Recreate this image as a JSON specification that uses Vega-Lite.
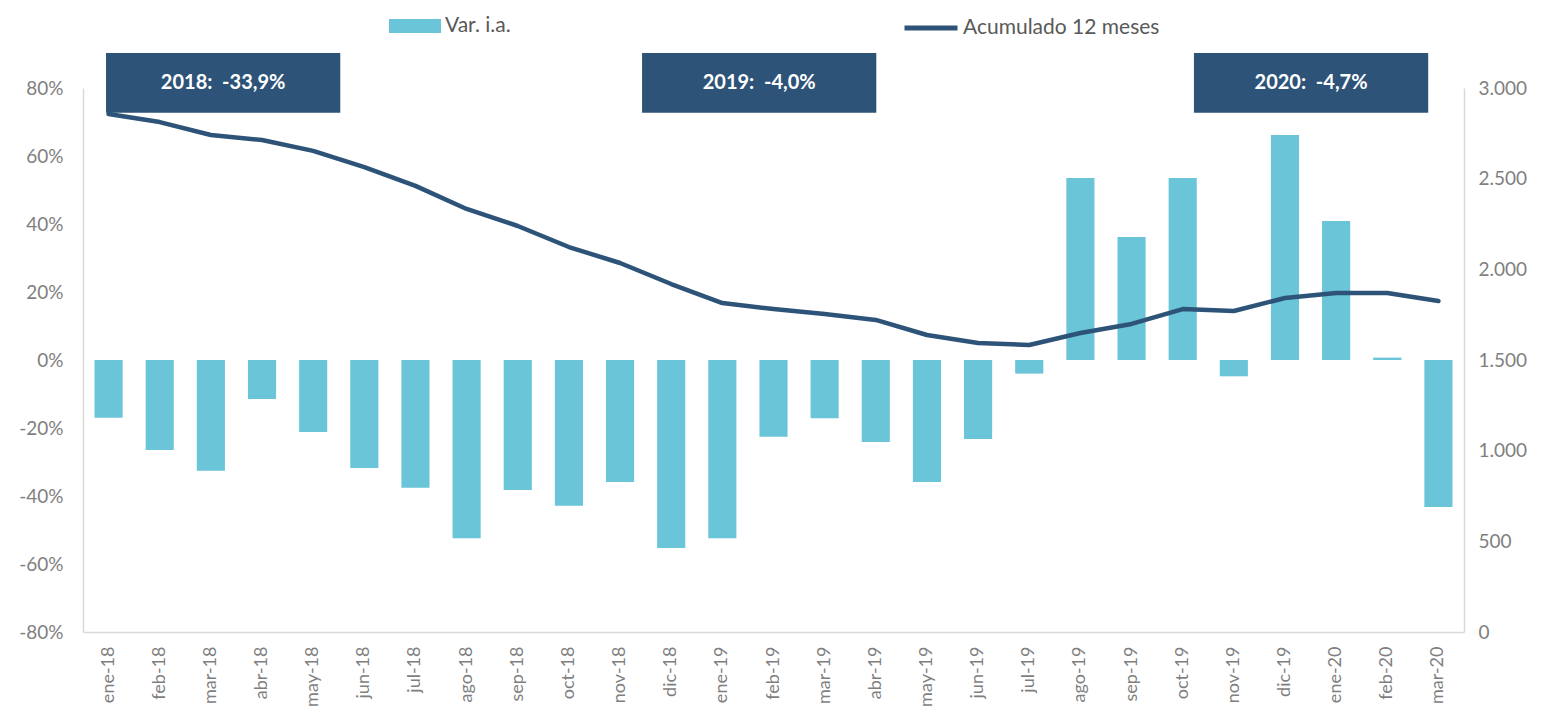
{
  "$schema": "https://vega.github.io/schema/vega-lite/v6.json",
  "width": 1381,
  "height": 544,
  "autosize": {"type": "none"},
  "padding": {"left": 83, "top": 88, "right": 77, "bottom": 84},
  "background": "white",
  "config": {
    "font": "Lato",
    "view": {"stroke": null},
    "axis": {"labelFont": "Lato", "labelColor": "#7F7F7F", "labelFontSize": 19, "ticks": false, "grid": false, "domainColor": "#D9D9D9", "domainWidth": 1.5, "title": null},
    "legend": {"labelFont": "Lato", "labelFontSize": 21, "labelColor": "#595959", "padding": 0, "title": null, "labelLimit": 400}
  },
  "datasets": {
    "main": [
      {"mes": "ene-18", "var": -0.17, "acum": 2857},
      {"mes": "feb-18", "var": -0.265, "acum": 2812},
      {"mes": "mar-18", "var": -0.326, "acum": 2741},
      {"mes": "abr-18", "var": -0.115, "acum": 2713},
      {"mes": "may-18", "var": -0.212, "acum": 2653},
      {"mes": "jun-18", "var": -0.318, "acum": 2564},
      {"mes": "jul-18", "var": -0.376, "acum": 2460},
      {"mes": "ago-18", "var": -0.524, "acum": 2333},
      {"mes": "sep-18", "var": -0.382, "acum": 2239},
      {"mes": "oct-18", "var": -0.429, "acum": 2123},
      {"mes": "nov-18", "var": -0.359, "acum": 2035},
      {"mes": "dic-18", "var": -0.553, "acum": 1919},
      {"mes": "ene-19", "var": -0.524, "acum": 1814},
      {"mes": "feb-19", "var": -0.226, "acum": 1781},
      {"mes": "mar-19", "var": -0.171, "acum": 1754},
      {"mes": "abr-19", "var": -0.241, "acum": 1721},
      {"mes": "may-19", "var": -0.359, "acum": 1638},
      {"mes": "jun-19", "var": -0.232, "acum": 1594},
      {"mes": "jul-19", "var": -0.04, "acum": 1583},
      {"mes": "ago-19", "var": 0.535, "acum": 1649},
      {"mes": "sep-19", "var": 0.362, "acum": 1699},
      {"mes": "oct-19", "var": 0.535, "acum": 1781},
      {"mes": "nov-19", "var": -0.048, "acum": 1770},
      {"mes": "dic-19", "var": 0.662, "acum": 1842},
      {"mes": "ene-20", "var": 0.409, "acum": 1869},
      {"mes": "feb-20", "var": 0.007, "acum": 1869},
      {"mes": "mar-20", "var": -0.432, "acum": 1825}
    ],
    "notes": [
      {"label": "2018: \u00a0-33,9%", "x0": 0.45, "x1": 5.03, "xc": 2.74, "y0": 0.727, "y1": 0.903, "yc": 0.815},
      {"label": "2019: \u00a0-4,0%", "x0": 10.93, "x1": 15.51, "xc": 13.22, "y0": 0.727, "y1": 0.903, "yc": 0.815},
      {"label": "2020: \u00a0-4,7%", "x0": 21.72, "x1": 26.30, "xc": 24.01, "y0": 0.727, "y1": 0.903, "yc": 0.815}
    ]
  },
  "layer": [
    {
      "data": {"name": "main"},
      "layer": [
        {
          "mark": {"type": "bar", "fill": "#6AC5D9"},
          "encoding": {
            "x": {
              "field": "mes", "type": "ordinal", "sort": null,
              "scale": {"paddingInner": 0.45, "paddingOuter": 0.225},
              "axis": {"labelAngle": -90, "labelAlign": "right", "labelBaseline": "middle", "labelPadding": 14, "labelFontSize": 18, "domain": true, "labelOverlap": false}
            },
            "y": {
              "field": "var", "type": "quantitative",
              "scale": {"domain": [-0.8, 0.8], "nice": false},
              "axis": {"values": [-0.8, -0.6, -0.4, -0.2, 0, 0.2, 0.4, 0.6, 0.8], "labelExpr": "round(datum.value*100) + '%'", "labelPadding": 20, "orient": "left"}
            },
            "fill": {"datum": "Var. i.a.", "type": "nominal", "scale": {"range": ["#6AC5D9"]},
              "legend": {"orient": "none", "legendX": 305, "legendY": -89, "symbolType": "M-1,-0.27L1,-0.27L1,0.27L-1,0.27Z", "symbolSize": 2704, "symbolOpacity": 1, "labelOffset": 3}}
          }
        },
        {
          "mark": {"type": "line", "stroke": "#2D5478", "strokeWidth": 4.5, "strokeCap": "round", "strokeJoin": "round"},
          "encoding": {
            "x": {"field": "mes", "type": "ordinal", "sort": null},
            "y": {
              "field": "acum", "type": "quantitative",
              "scale": {"domain": [0, 3000], "nice": false},
              "axis": {"orient": "right", "values": [0, 500, 1000, 1500, 2000, 2500, 3000], "labelExpr": "replace(format(datum.value, ','), ',', '.')", "labelPadding": 14}
            },
            "stroke": {"datum": "Acumulado 12 meses", "type": "nominal", "scale": {"range": ["#2D5478"]},
              "legend": {"orient": "none", "legendX": 819, "legendY": -89, "symbolType": "stroke", "symbolSize": 2809, "symbolStrokeWidth": 5, "labelOffset": 3}}
          }
        }
      ],
      "resolve": {"scale": {"y": "independent"}}
    },
    {
      "data": {"name": "notes"},
      "layer": [
        {
          "mark": {"type": "rect", "fill": "#2D5478"},
          "encoding": {
            "x": {"field": "x0", "type": "quantitative", "scale": {"domain": [0, 27], "nice": false, "zero": false}, "axis": null},
            "x2": {"field": "x1"},
            "y": {"field": "y0", "type": "quantitative", "scale": {"domain": [-0.8, 0.8], "nice": false}, "axis": null},
            "y2": {"field": "y1"}
          }
        },
        {
          "mark": {"type": "text", "color": "white", "font": "Lato", "fontWeight": "bold", "fontSize": 20, "align": "center", "baseline": "middle"},
          "encoding": {
            "x": {"field": "xc", "type": "quantitative"},
            "y": {"field": "yc", "type": "quantitative"},
            "text": {"field": "label"}
          }
        }
      ]
    }
  ],
  "resolve": {"scale": {"x": "independent", "y": "independent"}}
}
